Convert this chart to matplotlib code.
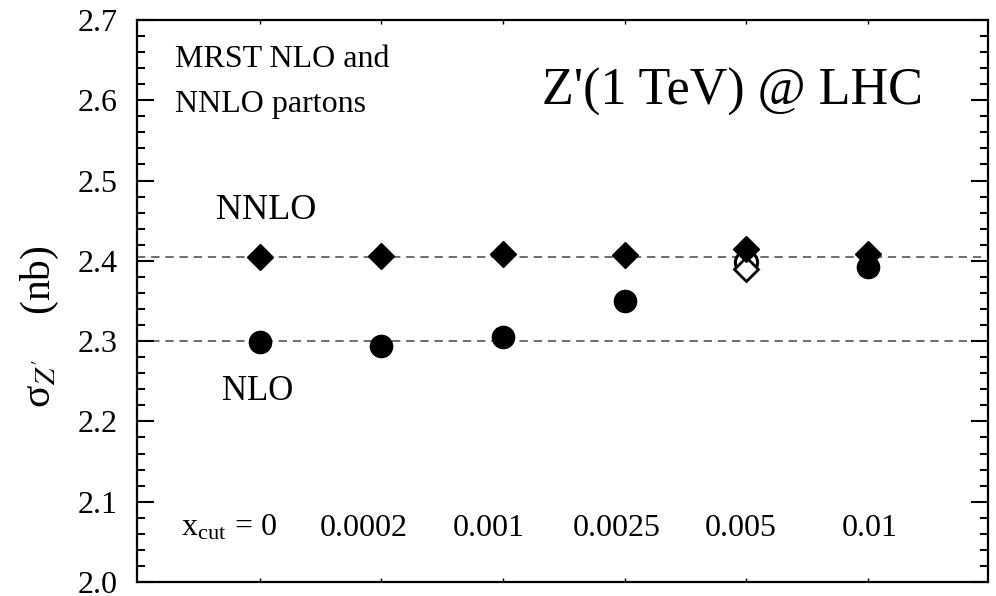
import matplotlib
matplotlib.use("Agg")
import matplotlib.pyplot as plt
import numpy as np

plt.rcParams['font.family'] = ['Liberation Serif', 'DejaVu Serif']
plt.rcParams['mathtext.fontset'] = 'stix'

# x_cut values (categories) and cross sections in nb
xcut = ["0", "0.0002", "0.001", "0.0025", "0.005", "0.01"]
nnlo = [2.405, 2.406, 2.409, 2.407, 2.415, 2.408]
nlo = [2.299, 2.294, 2.305, 2.350, np.nan, 2.392]
# open symbols at x_cut = 0.005
nlo_open = [np.nan, np.nan, np.nan, np.nan, 2.398, np.nan]
nnlo_open = [np.nan, np.nan, np.nan, np.nan, 2.390, np.nan]
ref_nnlo = 2.405
ref_nlo = 2.300

fig = plt.figure(figsize=(9.96, 5.96), dpi=100)
ax = fig.add_axes([0.1376, 0.0235, 0.8544, 0.9430])
pos = np.arange(len(xcut))

ax.axhline(ref_nnlo, color='#555555', lw=1.2, ls=(0, (5, 3.5)), zorder=1)
ax.axhline(ref_nlo, color='#555555', lw=1.2, ls=(0, (5, 3.5)), zorder=1)

ax.plot(pos, nlo_open, 'o', ms=16, mfc='white', mec='black', mew=2.2, ls='none', zorder=2)
ax.plot(pos, nnlo_open, 'D', ms=12, mfc='white', mec='black', mew=2.0, ls='none', zorder=3)
ax.plot(pos, nlo, 'o', ms=16, color='black', ls='none', zorder=3)
ax.plot(pos, nnlo, 'D', ms=13, color='black', ls='none', zorder=4)

ax.set_xlim(-1.01, 5.99)
ax.set_ylim(2.0, 2.7)
ax.set_xticks(pos)
ax.set_xticklabels([])
ax.set_yticks(np.arange(2.0, 2.71, 0.1))
ax.set_yticks(np.arange(2.0, 2.70, 0.02), minor=True)
ax.set_yticklabels(["%.1f" % v for v in np.arange(2.0, 2.71, 0.1)])
ax.tick_params(axis='y', which='major', direction='in', length=12, width=1.5,
               left=True, right=True, labelsize=23, pad=14)
ax.tick_params(axis='y', which='minor', direction='in', length=6, width=1.5,
               left=True, right=True)
ax.tick_params(axis='x', which='major', direction='in', length=3, width=1.0,
               bottom=True, top=True)
for s in ax.spines.values():
    s.set_linewidth(1.6)

# x_cut labels inside the frame
label_x = [0.14, 0.855, 1.88, 2.94, 3.96, 5.02]
for i, lab in enumerate(xcut):
    if i == 0:
        ax.text(label_x[i], 2.067, r"x$_{\mathregular{cut}}$ = 0", ha='right', va='center', fontsize=23)
    else:
        ax.text(label_x[i], 2.067, lab, ha='center', va='center', fontsize=23)

ax.text(-0.70, 2.641, "MRST NLO and", fontsize=23, ha='left', va='baseline')
ax.text(-0.70, 2.585, "NNLO partons", fontsize=23, ha='left', va='baseline')
ax.text(3.89, 2.594, "Z'(1 TeV) @ LHC", fontsize=37.5, ha='center', va='baseline')
ax.text(0.05, 2.452, "NNLO", fontsize=26, ha='center', va='baseline')
ax.text(-0.02, 2.227, "NLO", fontsize=25, ha='center', va='baseline')

ax.text(-0.114, 0.454, "σ$_{Z'}$    (nb)", transform=ax.transAxes, rotation=90,
        ha='center', va='center', fontsize=30)

fig.savefig("out.png", dpi=100)
